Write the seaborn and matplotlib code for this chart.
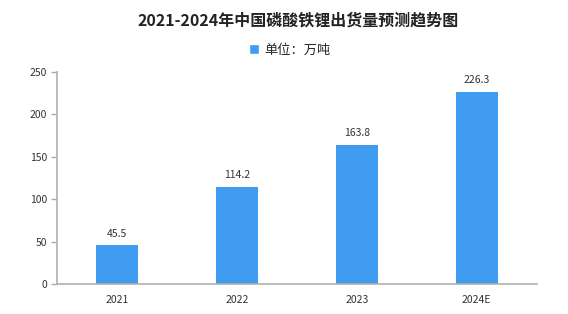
import matplotlib
matplotlib.use("Agg")
import matplotlib.pyplot as plt
import seaborn as sns
import pandas as pd
import numpy as np
from matplotlib.patches import Patch

years = ["2021", "2022", "2023", "2024E"]
values = [45.5, 114.2, 163.8, 226.3]
value_labels = ["45.5", "114.2", "163.8", "226.3"]
yticks = [0, 50, 100, 150, 200, 250]
title = "2021-2024年中国磷酸铁锂出货量预测趋势图"
legend_label = "单位：万吨"

sns.set_theme(style="white")
plt.rcParams['font.family'] = ['Noto Sans CJK SC', 'DejaVu Sans']

df = pd.DataFrame({"year": years, "value": values, "series": legend_label})

fig = plt.figure(figsize=(5.68, 3.14), dpi=100)
ax = fig.add_axes([0.100, 0.0955, 0.845, 0.676])
color = "#3f9cf0"
sns.barplot(data=df, x="year", y="value", hue="series", palette=[color],
            width=0.35, ax=ax, legend=False, saturation=1, linewidth=0)

ax.set_xlim(-0.5, len(years) - 0.5)
ax.set_ylim(0, 250)
ax.set_yticks(yticks)
ax.set_yticklabels([str(t) for t in yticks], fontsize=7.5, color="#333333")
ax.set_xticks(range(len(years)))
ax.set_xticklabels(years, fontsize=7.5, color="#333333")
ax.tick_params(axis="x", which="major", length=0, pad=8)
ax.set_xticks(np.arange(-0.5, len(years), 1.0), minor=True)
ax.tick_params(axis="x", which="minor", length=4, color="#aaaaaa", width=1, direction="out")
ax.tick_params(axis="y", length=4, color="#aaaaaa", width=1, direction="out", left=True, pad=3)
ax.set_xlabel("")
ax.set_ylabel("")
for s in ["top", "right"]:
    ax.spines[s].set_visible(False)
for s in ["left", "bottom"]:
    ax.spines[s].set_color("#b0b0b0")
    ax.spines[s].set_linewidth(1.2)

for i, (v, lab) in enumerate(zip(values, value_labels)):
    ax.text(i, v + 8, lab, ha="center", va="bottom", fontsize=7.5, color="#333333")

fig.text(0.525, 0.935, title, ha="center", va="center", fontsize=11.5, fontweight="bold", color="#222222")
fig.legend(handles=[Patch(facecolor=color, label=legend_label)], loc="center",
           bbox_to_anchor=(0.51, 0.84), frameon=False, fontsize=9.5,
           handlelength=0.75, handleheight=0.75, handletextpad=0.4)

fig.savefig("out.png", dpi=100)
